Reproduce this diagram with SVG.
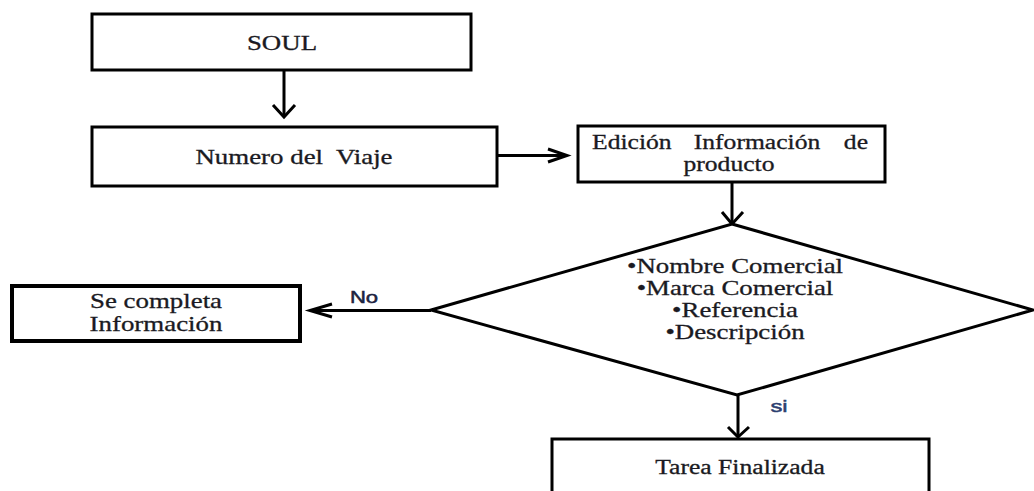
<svg xmlns="http://www.w3.org/2000/svg" width="1034" height="491" viewBox="0 0 1034 491">
<style>
.box{fill:#fff;stroke:#000;stroke-width:3}
.thick{stroke-width:4}
.t{font-family:"Liberation Serif","Times New Roman",serif;font-size:21px;fill:#1a1a22;stroke:#1a1a22;stroke-width:0.3;text-anchor:middle}
.t20{font-size:20px}
.lab{font-family:"Liberation Sans",Arial,sans-serif;font-size:17px;fill:#1c2340;stroke:#1c2340;stroke-width:0.5;text-anchor:middle}
.con{fill:none;stroke:#000;stroke-width:3}
</style>
<rect width="1034" height="491" fill="#fff"/>
<g id="connectors">
<line class="con" x1="284" y1="70" x2="284" y2="116"/>
<polyline class="con" points="273,105 284,117 295,105"/>
<line class="con" x1="497" y1="155.5" x2="566" y2="155.5"/>
<polyline class="con" points="548,149 567,155.5 548,162"/>
<line class="con" x1="732" y1="182" x2="732" y2="223"/>
<polyline class="con" points="722,212 732,224 743,212"/>
<line class="con" x1="431" y1="310.5" x2="311" y2="310.5"/>
<polyline class="con" points="332,304 310,310.5 332,317"/>
<line class="con" x1="738" y1="395" x2="738" y2="436"/>
<polyline class="con" points="728,427 738,437 749,427"/>
<g transform="translate(364,303) scale(1.3,1)"><text class="lab" x="0" y="0">No</text></g>
<g transform="translate(779,412) scale(1.4,1)"><text class="lab" x="0" y="0" style="fill:#2c3f70;stroke:#2c3f70">si</text></g>
</g>
<g id="soul">
<rect class="box" x="92" y="14" width="379" height="56"/>
<g transform="translate(282,50) scale(1.28,1)"><text class="t" x="0" y="0">SOUL</text></g>
</g>
<g id="numero">
<rect class="box" x="92" y="127" width="405" height="59"/>
<g transform="translate(294,164) scale(1.28,1)"><text class="t" x="0" y="0" xml:space="preserve">Numero del  Viaje</text></g>
</g>
<g id="edicion">
<rect class="box" x="578" y="126" width="307" height="56"/>
<g transform="translate(592,149) scale(1.28,1)"><text class="t t20" x="0" y="0" style="text-anchor:start">Edición</text></g>
<g transform="translate(757,149) scale(1.28,1)"><text class="t t20" x="0" y="0">Información</text></g>
<g transform="translate(868,149) scale(1.28,1)"><text class="t t20" x="0" y="0" style="text-anchor:end">de</text></g>
<g transform="translate(729,171) scale(1.28,1)"><text class="t t20" x="0" y="0">producto</text></g>
</g>
<g id="decision">
<polygon class="box" points="732,224 1033,310 737,395 431,310"/>
<g transform="translate(735,273) scale(1.28,1)"><text class="t" x="0" y="0">•Nombre Comercial</text></g>
<g transform="translate(735,295) scale(1.28,1)"><text class="t" x="0" y="0">•Marca Comercial</text></g>
<g transform="translate(735,317) scale(1.28,1)"><text class="t" x="0" y="0">•Referencia</text></g>
<g transform="translate(735,339) scale(1.28,1)"><text class="t" x="0" y="0">•Descripción</text></g>
</g>
<g id="completa">
<rect class="box thick" x="12" y="286" width="288" height="55"/>
<g transform="translate(156,308) scale(1.28,1)"><text class="t" x="0" y="0">Se completa</text></g>
<g transform="translate(156,331) scale(1.28,1)"><text class="t" x="0" y="0">Información</text></g>
</g>
<g id="tarea">
<rect class="box" x="552" y="439" width="377" height="70"/>
<g transform="translate(740,474) scale(1.28,1)"><text class="t t20" x="0" y="0">Tarea Finalizada</text></g>
</g>
</svg>
